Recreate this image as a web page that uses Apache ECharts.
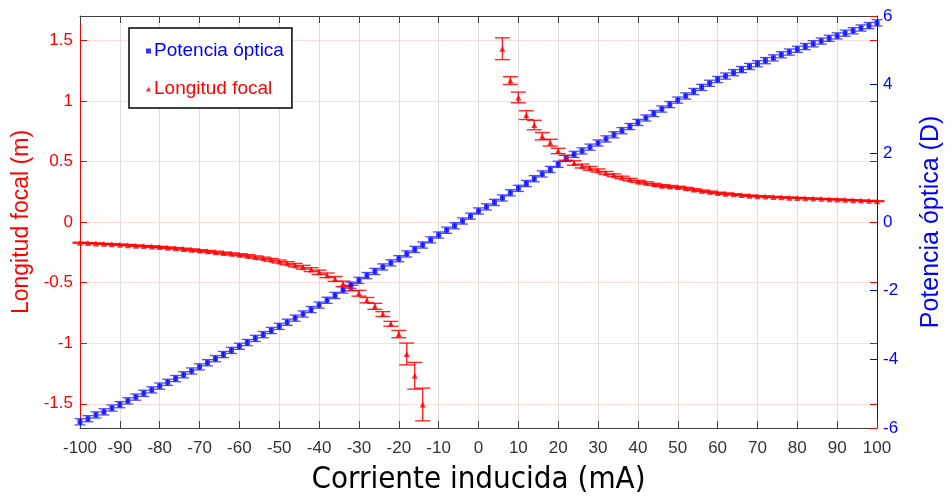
<!DOCTYPE html>
<html>
<head>
<meta charset="utf-8">
<script src="https://cdn.jsdelivr.net/npm/echarts@6/dist/echarts.min.js"></script>
<style>
  html, body { margin: 0; padding: 0; background: #fff; }
  #main { width: 952px; height: 503px; }
</style>
</head>
<body>
<div id="main"></div>
<script>
// corriente (mA), un punto cada 2 mA
const currents = [
  -100, -98, -96, -94, -92, -90, -88, -86, -84, -82,
  -80, -78, -76, -74, -72, -70, -68, -66, -64, -62,
  -60, -58, -56, -54, -52, -50, -48, -46, -44, -42,
  -40, -38, -36, -34, -32, -30, -28, -26, -24, -22,
  -20, -18, -16, -14, -12, -10, -8, -6, -4, -2,
  0, 2, 4, 6, 8, 10, 12, 14, 16, 18,
  20, 22, 24, 26, 28, 30, 32, 34, 36, 38,
  40, 42, 44, 46, 48, 50, 52, 54, 56, 58,
  60, 62, 64, 66, 68, 70, 72, 74, 76, 78,
  80, 82, 84, 86, 88, 90, 92, 94, 96, 98,
  100
];

// potencia óptica (D)
const power = [
  -5.82, -5.73, -5.62, -5.53, -5.42, -5.32, -5.21, -5.10, -4.99, -4.89,
  -4.78, -4.67, -4.56, -4.45, -4.34, -4.22, -4.10, -3.98, -3.86, -3.74,
  -3.62, -3.51, -3.39, -3.28, -3.16, -3.04, -2.92, -2.80, -2.68, -2.55,
  -2.42, -2.28, -2.14, -1.98, -1.84, -1.70, -1.56, -1.44, -1.31, -1.19,
  -1.07, -0.93, -0.80, -0.67, -0.52, -0.38, -0.24, -0.11, 0.03, 0.17,
  0.32, 0.44, 0.57, 0.70, 0.85, 0.98, 1.12, 1.26, 1.40, 1.53,
  1.68, 1.85, 1.97, 2.07, 2.18, 2.30, 2.42, 2.54, 2.66, 2.78,
  2.90, 3.03, 3.16, 3.29, 3.42, 3.55, 3.67, 3.80, 3.92, 4.04,
  4.15, 4.25, 4.35, 4.44, 4.53, 4.61, 4.70, 4.78, 4.87, 4.95,
  5.03, 5.11, 5.19, 5.27, 5.35, 5.42, 5.50, 5.57, 5.65, 5.72,
  5.80
];
const powerErr = 0.09;

// longitud focal (m), null donde no se dibuja
const focal = [
  -0.171, -0.174, -0.177, -0.180, -0.184, -0.187, -0.191, -0.195, -0.199, -0.203,
  -0.207, -0.212, -0.217, -0.223, -0.229, -0.236, -0.242, -0.249, -0.256, -0.263,
  -0.270, -0.279, -0.289, -0.300, -0.312, -0.326, -0.340, -0.356, -0.373, -0.393,
  -0.415, -0.440, -0.470, -0.510, -0.545, -0.588, -0.645, -0.696, -0.760, -0.840,
  -0.925, -1.089, -1.269, -1.506, null, null, null, null, null, null,
  null, null, null, 1.430, 1.167, 1.028, 0.882, 0.800, 0.708, 0.655,
  0.586, 0.530, 0.487, 0.462, 0.443, 0.425, 0.405, 0.386, 0.368, 0.350,
  0.335, 0.323, 0.311, 0.300, 0.293, 0.288, 0.279, 0.268, 0.258, 0.249,
  0.240, 0.234, 0.228, 0.222, 0.217, 0.213, 0.210, 0.207, 0.204, 0.201,
  0.199, 0.196, 0.193, 0.191, 0.188, 0.186, 0.183, 0.180, 0.177, 0.175,
  0.172
];
const focalErr = [
  0.004, 0.004, 0.004, 0.004, 0.005, 0.005, 0.005, 0.005, 0.005, 0.006,
  0.006, 0.006, 0.006, 0.007, 0.007, 0.007, 0.007, 0.008, 0.008, 0.008,
  0.008, 0.009, 0.009, 0.010, 0.011, 0.012, 0.013, 0.014, 0.015, 0.016,
  0.018, 0.019, 0.020, 0.022, 0.023, 0.024, 0.022, 0.025, 0.020, 0.020,
  0.030, 0.090, 0.110, 0.135, null, null, null, null, null, null,
  null, null, null, 0.090, 0.032, 0.044, 0.036, 0.039, 0.030, 0.028,
  0.022, 0.020, 0.018, 0.016, 0.015, 0.013, 0.012, 0.011, 0.010, 0.010,
  0.009, 0.009, 0.008, 0.008, 0.008, 0.007, 0.007, 0.007, 0.006, 0.006,
  0.006, 0.006, 0.005, 0.005, 0.005, 0.005, 0.005, 0.005, 0.004, 0.004,
  0.004, 0.004, 0.004, 0.004, 0.004, 0.004, 0.004, 0.004, 0.004, 0.004,
  0.004
];

const RED = '#ff0000';
const BLUE = '#0000ff';
const AXIS = '#404040';

const powerPts = currents.map((c, i) => [c, power[i], powerErr]);
const focalPts = currents.map((c, i) => [c, focal[i], focalErr[i]])
  .filter(p => p[1] !== null);

// barras de error verticales con topes
function errorBars(capW, lw) {
  return function (params, api) {
    const x = api.value(0), y = api.value(1), e = api.value(2);
    const hi = api.coord([x, y + e]);
    const lo = api.coord([x, y - e]);
    const h = capW / 2;
    const style = { stroke: api.visual('color'), lineWidth: lw };
    return {
      type: 'group',
      children: [
        { type: 'line', shape: { x1: hi[0], y1: hi[1], x2: lo[0], y2: lo[1] }, style },
        { type: 'line', shape: { x1: hi[0] - h, y1: hi[1], x2: hi[0] + h, y2: hi[1] }, style },
        { type: 'line', shape: { x1: lo[0] - h, y1: lo[1], x2: lo[0] + h, y2: lo[1] }, style }
      ]
    };
  };
}

const chart = echarts.init(document.getElementById('main'));
chart.setOption({
  animation: false,
  textStyle: { fontFamily: 'Liberation Sans' },
  grid: { left: 80, right: 70, top: 16, bottom: 75 },
  legend: {
    orient: 'vertical',
    left: 129,
    top: 28,
    backgroundColor: '#fff',
    borderColor: '#000',
    borderWidth: 1.5,
    padding: [12, 8, 8, 17],
    itemWidth: 5,
    itemHeight: 5,
    itemGap: 16,
    textStyle: { fontSize: 19, lineHeight: 22, padding: [0, 0, 0, -2] },
    data: [
      { name: 'Potencia óptica', icon: 'rect', textStyle: { color: BLUE } },
      { name: 'Longitud focal', icon: 'triangle', textStyle: { color: RED } }
    ]
  },
  xAxis: [
    {
      type: 'value', position: 'bottom', min: -100, max: 100, interval: 10,
      name: 'Corriente inducida (mA)', nameLocation: 'middle', nameGap: 36,
      nameTextStyle: { fontFamily: 'DejaVu Sans Condensed', fontSize: 31, color: '#000' },
      axisLine: { onZero: false, lineStyle: { color: AXIS, width: 1 } },
      axisTick: { inside: true, length: 7, lineStyle: { color: AXIS } },
      axisLabel: { color: '#333', fontSize: 17, margin: 12 },
      splitLine: { show: true, lineStyle: { color: '#dedede', width: 1 } }
    },
    {
      type: 'value', position: 'top', min: -100, max: 100, interval: 10,
      axisLine: { onZero: false, lineStyle: { color: AXIS, width: 1 } },
      axisTick: { inside: true, length: 7, lineStyle: { color: AXIS } },
      axisLabel: { show: false },
      splitLine: { show: false }
    }
  ],
  yAxis: [
    {
      type: 'value', position: 'left', min: -1.7, max: 1.7, splitNumber: 7,
      name: 'Longitud focal (m)', nameLocation: 'middle', nameGap: 46, nameRotate: 90,
      nameTextStyle: { color: RED, fontSize: 23 },
      axisLine: { onZero: false, lineStyle: { color: RED, width: 1 } },
      axisTick: { inside: true, length: 7, lineStyle: { color: RED } },
      axisLabel: { color: RED, fontSize: 17, margin: 7, showMinLabel: false, showMaxLabel: false },
      splitLine: { show: true, lineStyle: { color: 'rgba(255,0,0,0.14)', width: 1 } }
    },
    {
      type: 'value', position: 'right', min: -6, max: 6, interval: 2,
      name: 'Potencia óptica (D)', nameLocation: 'middle', nameGap: 42, nameRotate: 90,
      nameTextStyle: { color: BLUE, fontSize: 25 },
      axisLine: { onZero: false, lineStyle: { color: BLUE, width: 1 } },
      axisTick: { inside: true, length: 7, lineStyle: { color: BLUE } },
      axisLabel: { color: BLUE, fontSize: 17, margin: 6 },
      splitLine: { show: false }
    },
    {
      type: 'value', position: 'right', min: -1.7, max: 1.7, splitNumber: 7,
      axisLine: { show: false, onZero: false },
      axisTick: { inside: true, length: 7, lineStyle: { color: RED } },
      axisLabel: { show: false },
      splitLine: { show: false }
    }
  ],
  series: [
    {
      name: 'barras potencia', type: 'custom', xAxisIndex: 0, yAxisIndex: 1,
      itemStyle: { color: 'rgba(0,0,255,0.7)' },
      renderItem: errorBars(11, 1.3),
      encode: { x: 0, y: 1 },
      data: powerPts, z: 2
    },
    {
      name: 'Potencia óptica', type: 'scatter', xAxisIndex: 0, yAxisIndex: 1,
      symbol: 'rect', symbolSize: 5,
      itemStyle: { color: BLUE },
      data: powerPts.map(p => [p[0], p[1]]), z: 3
    },
    {
      name: 'barras focal', type: 'custom', xAxisIndex: 0, yAxisIndex: 0,
      itemStyle: { color: 'rgba(255,0,0,0.85)' },
      renderItem: errorBars(15, 1.4),
      encode: { x: 0, y: 1 },
      data: focalPts, z: 2
    },
    {
      name: 'Longitud focal', type: 'scatter', xAxisIndex: 0, yAxisIndex: 0,
      symbol: 'triangle', symbolSize: 6,
      itemStyle: { color: RED },
      data: focalPts.map(p => [p[0], p[1]]), z: 3
    }
  ]
});
</script>
</body>
</html>
